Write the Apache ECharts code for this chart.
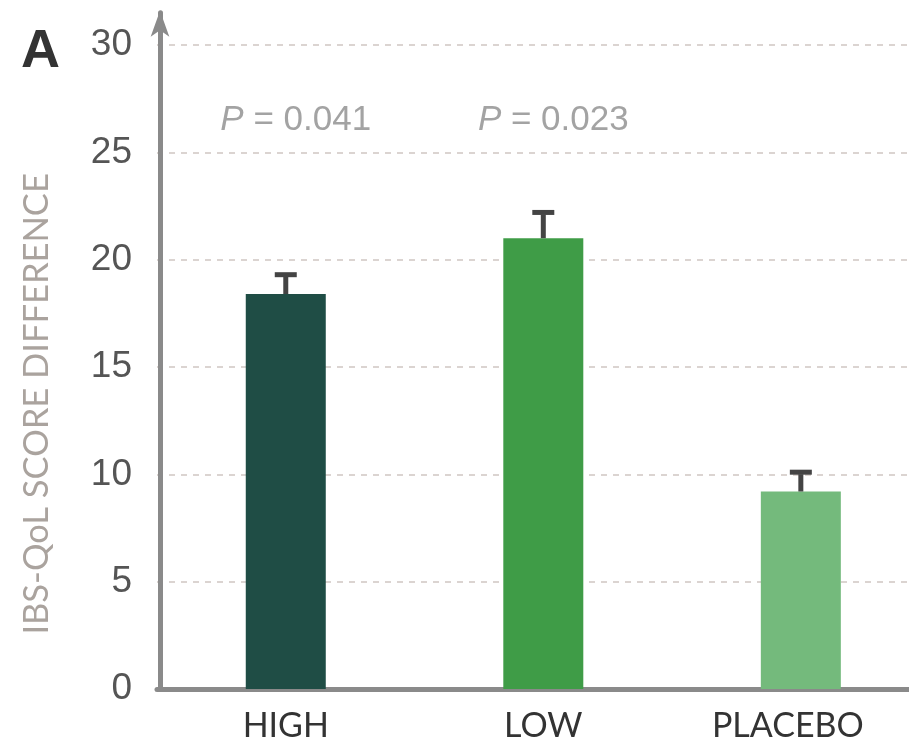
<!DOCTYPE html>
<html>
<head>
<meta charset="utf-8">
<script src="https://cdn.jsdelivr.net/npm/echarts@6/dist/echarts.min.js"></script>
<style>html,body{margin:0;padding:0;background:#fff;}#c{width:909px;height:746px;}</style>
</head>
<body>
<div id="c"></div>
<script>
const categories = ['HIGH', 'LOW', 'PLACEBO'];
const means = [18.4, 21.0, 9.2];
const upperErr = [19.3, 22.2, 10.1];
const barColors = ['#1f4d45', '#3f9c47', '#74ba7c'];
const pLabels = ['0.041', '0.023'];
const pLabelY = 26.5;
const yTicks = [0, 5, 10, 15, 20, 25, 30];

const chart = echarts.init(document.getElementById('c'));
chart.setOption({
  animation: false,
  backgroundColor: '#fff',
  title: {
    text: 'A', left: 16, top: 20,
    textStyle: { fontSize: 54, fontWeight: 'bold', color: '#333', fontFamily: 'Liberation Sans' }
  },
  grid: { left: 157, right: 0, top: 12.8, bottom: 57 },
  xAxis: {
    type: 'value',
    min: -0.5, max: 2.42, interval: 0.5,
    axisLine: { onZero: false, lineStyle: { color: '#8a8a8a', width: 5 } },
    axisTick: { show: false },
    splitLine: { show: false },
    axisLabel: {
      fontSize: 34, color: '#333', fontFamily: 'Lato', margin: 20,
      showMinLabel: true, showMaxLabel: false,
      formatter: v => {
        if (!(Number.isInteger(v) && categories[v] !== undefined)) return '';
        return v === 2 ? '{s|' + categories[v] + '}' : categories[v];
      },
      rich: { s: { fontSize: 34, color: '#333', fontFamily: 'Lato', padding: [0, 26, 0, 0] } }
    }
  },
  yAxis: {
    type: 'value',
    min: 0, max: 31.5, interval: 5,
    offset: -3,
    name: 'IBS-QoL SCORE DIFFERENCE',
    nameLocation: 'middle',
    nameGap: 106,
    nameTextStyle: { fontSize: 34.5, color: '#aaa39e', fontFamily: 'Lato', padding: [0, 106, 0, 0] },
    axisLine: {
      show: true,
      onZero: false,
      lineStyle: { color: '#8a8a8a', width: 5 },
      symbol: ['none', 'arrow'],
      symbolSize: [14, 26],
      symbolOffset: [0, 2]
    },
    axisTick: { show: false },
    axisLabel: {
      fontSize: 37, color: '#555', fontFamily: 'Liberation Sans', margin: 28,
      showMaxLabel: false,
      formatter: v => (yTicks.indexOf(v) >= 0 ? String(v) : '')
    },
    splitLine: {
      show: true, showMaxLine: false,
      lineStyle: { color: '#d0c6c2', width: 1.5, type: [6, 6] }
    }
  },
  series: [
    {
      type: 'bar',
      barWidth: 80,
      data: means.map((v, i) => ({ value: [i, v], itemStyle: { color: barColors[i] } })),
      z: 2
    },
    {
      type: 'custom',
      data: means.map((v, i) => [i, v, upperErr[i]]),
      renderItem: function (params, api) {
        const x = api.value(0);
        const lo = api.coord([x, api.value(1)]);
        const hi = api.coord([x, api.value(2)]);
        const half = 11;
        return {
          type: 'group',
          children: [
            { type: 'line', shape: { x1: lo[0], y1: lo[1], x2: hi[0], y2: hi[1] + 2 }, style: { stroke: '#444', lineWidth: 5 } },
            { type: 'line', shape: { x1: hi[0] - half, y1: hi[1], x2: hi[0] + half, y2: hi[1] }, style: { stroke: '#444', lineWidth: 5 } }
          ]
        };
      },
      z: 3
    },
    {
      type: 'scatter',
      symbolSize: 0,
      data: pLabels.map((p, i) => ({ value: [i, pLabelY], p: p })),
      label: {
        show: true,
        position: 'inside',
        offset: [10, 0],
        fontSize: 35,
        color: '#8c8c8c',
        fontFamily: 'Liberation Sans',
        formatter: params => '{i|P} = ' + params.data.p,
        rich: { i: { fontStyle: 'italic', fontSize: 35, color: '#8c8c8c', fontFamily: 'Liberation Sans' } }
      },
      z: 4
    }
  ]
});
</script>
</body>
</html>
